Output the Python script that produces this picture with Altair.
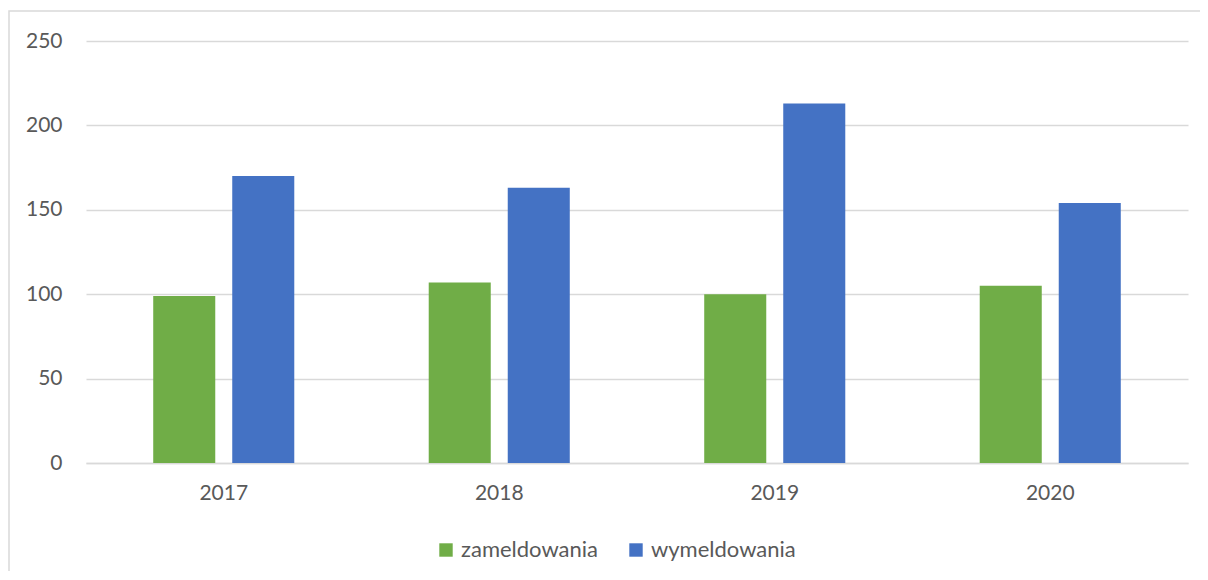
import altair as alt
import pandas as pd

years = ["2017", "2018", "2019", "2020"]
series = ["zameldowania", "wymeldowania"]
zameldowania = [99, 107, 100, 105]
wymeldowania = [170, 163, 213, 154]
colors = ["#70ad47", "#4472c4"]

rows = []
for i, y in enumerate(years):
    rows.append({"rok": y, "seria": series[0], "wartosc": zameldowania[i]})
    rows.append({"rok": y, "seria": series[1], "wartosc": wymeldowania[i]})
df = pd.DataFrame(rows)

W, H = 1102, 422
PL, PT = 78, 33

bars = alt.Chart(df).mark_bar().encode(
    x=alt.X("rok:N", sort=years, title=None,
            scale=alt.Scale(paddingInner=0.488, paddingOuter=0.244),
            axis=alt.Axis(labelAngle=0, ticks=False, domain=True, domainColor="#d9d9d9",
                          domainWidth=1.5, labelPadding=19, labelFontSize=21,
                          labelColor="#595959", labelFont="Lato", grid=False)),
    xOffset=alt.XOffset("seria:N", sort=series,
                        scale=alt.Scale(paddingInner=0.215, paddingOuter=0)),
    y=alt.Y("wartosc:Q", title=None,
            scale=alt.Scale(domain=[0, 250]),
            axis=alt.Axis(values=[0, 50, 100, 150, 200, 250], ticks=False, domain=False,
                          labelPadding=24, labelFontSize=21, labelColor="#595959",
                          labelFont="Lato", gridColor="#d9d9d9", gridWidth=1.5)),
    color=alt.Color("seria:N", sort=series,
                    scale=alt.Scale(domain=series, range=colors),
                    legend=alt.Legend(title=None, orient="none", direction="horizontal",
                                      legendX=349, legendY=498, symbolType="square",
                                      symbolSize=180, symbolStrokeWidth=0,
                                      labelFontSize=22, labelFont="Lato",
                                      labelColor="#595959", columnPadding=27,
                                      labelOffset=4)),
)

border = alt.Chart(pd.DataFrame({"a": [0]})).mark_rect(
    fill=None, stroke="#d9d9d9", strokeWidth=1.5
).encode(
    x=alt.value(9 - 8 - PL),
    x2=alt.value(1300),
    y=alt.value(11 - 8 - PT),
    y2=alt.value(700),
)

chart = alt.layer(border, bars).properties(
    width=W, height=H,
    background="white",
    autosize=alt.AutoSizeParams(type="none"),
    padding={"left": PL, "top": PT, "right": 12, "bottom": 108},
).configure_view(strokeWidth=0)

chart.save("out.html", embed_options={"renderer": "svg", "actions": False})
